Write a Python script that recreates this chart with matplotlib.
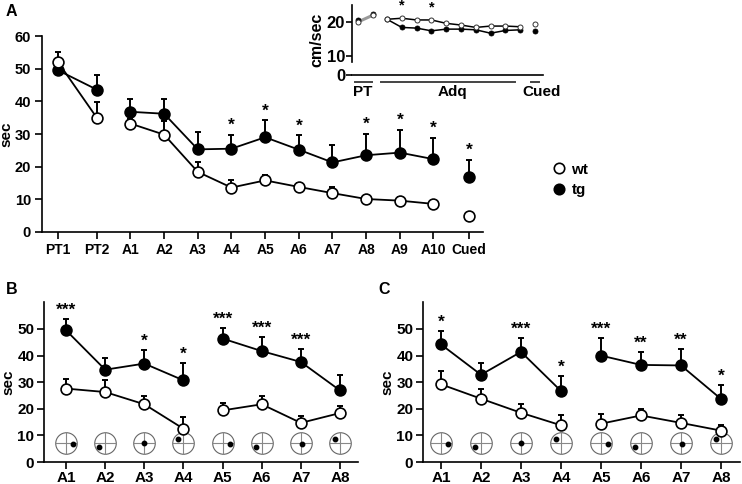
import numpy as np
import matplotlib
matplotlib.use("Agg")
import matplotlib.pyplot as plt
from matplotlib.lines import Line2D
from matplotlib.transforms import ScaledTranslation

plt.rcParams['font.family'] = ['Liberation Sans', 'DejaVu Sans']
plt.rcParams['font.weight'] = 'bold'
plt.rcParams['axes.labelweight'] = 'bold'

# ---------------- data ----------------
# Panel A
a_labels = ['PT1', 'PT2', 'A1', 'A2', 'A3', 'A4', 'A5', 'A6', 'A7', 'A8', 'A9', 'A10', 'Cued']
a_wt = [52.0, 35.0, 33.2, 29.8, 18.4, 13.6, 15.8, 13.8, 11.9, 10.1, 9.6, 8.6, 4.9]
a_wt_err = [3.0, 4.7, 1.5, 4.2, 2.9, 2.2, 1.7, 1.2, 1.9, 1.0, 1.2, 0.8, 0.6]
a_tg = [49.5, 43.6, 36.8, 36.2, 25.3, 25.5, 29.0, 25.2, 21.3, 23.5, 24.3, 22.3, 16.8]
a_tg_err = [1.5, 4.6, 4.0, 4.6, 5.2, 4.3, 5.2, 4.4, 5.4, 6.5, 6.9, 6.5, 5.2]
a_stars = ['', '', '', '', '', '*', '*', '*', '', '*', '*', '*', '*']

# Inset (swim speed)
in_groups = ['PT', 'Adq', 'Cued']
in_wt = [20.0, 22.0, 20.8, 21.1, 20.6, 20.6, 19.6, 19.1, 18.4, 18.8, 18.8, 18.6, 19.4]
in_tg = [20.5, 22.3, 20.8, 18.4, 18.2, 17.4, 17.9, 17.9, 17.7, 16.7, 17.5, 17.7, 17.4]
in_err = [0.6] * 13
in_stars = ['', '', '', '*', '', '*', '', '', '', '', '', '', '']

# Panel B
b_labels = ['A1', 'A2', 'A3', 'A4', 'A5', 'A6', 'A7', 'A8']
b_wt = [27.6, 26.3, 21.7, 12.5, 19.4, 21.7, 14.7, 18.4]
b_wt_err = [3.7, 4.4, 3.3, 4.4, 2.8, 3.0, 2.5, 2.7]
b_tg = [49.5, 34.7, 37.0, 30.7, 46.4, 41.7, 37.6, 26.9]
b_tg_err = [4.1, 4.5, 5.0, 6.5, 4.1, 5.3, 5.0, 5.7]
b_stars = ['***', '', '*', '*', '***', '***', '***', '']

# Panel C
c_labels = ['A1', 'A2', 'A3', 'A4', 'A5', 'A6', 'A7', 'A8']
c_wt = [29.2, 23.8, 18.5, 13.8, 14.4, 17.5, 14.7, 11.8]
c_wt_err = [4.9, 3.5, 3.4, 3.7, 3.5, 2.5, 2.8, 2.2]
c_tg = [44.2, 32.8, 41.4, 26.7, 40.0, 36.5, 36.3, 23.7]
c_tg_err = [4.9, 4.5, 5.3, 5.6, 6.6, 4.8, 6.2, 5.3]
c_stars = ['*', '', '***', '*', '***', '**', '**', '*']

# platform position in each trial (icon dot offset, px)
platform = [(7, -1), (-6, -4), (0, 0), (-5, 4), (7, -1), (-6, -4), (1, -1), (-5, 4)]

# ---------------- figure ----------------
W, H = 742, 484
fig = plt.figure(figsize=(W / 100, H / 100), dpi=100)

MS = 7.8
MEW = 1.2
LW = 1.3


def style_axes(ax):
    for s in ['top', 'right']:
        ax.spines[s].set_visible(False)
    for s in ['left', 'bottom']:
        ax.spines[s].set_linewidth(1.2)
    ax.tick_params(direction='out', length=5, width=1.2)


def bold_ticks(ax):
    for lbl in ax.get_xticklabels() + ax.get_yticklabels():
        lbl.set_fontweight('bold')


def series(ax, x, y, err, filled, segments):
    for seg in segments:
        ax.plot([x[i] for i in seg], [y[i] for i in seg], color='k', lw=LW, zorder=2)
    ax.errorbar(x, y, yerr=[np.zeros(len(y)), err], fmt='none', ecolor='k',
                elinewidth=1.4, capsize=2.5, capthick=1.4, zorder=1)
    ax.plot(x, y, 'o', ms=MS, mew=MEW, mec='k', mfc='k' if filled else 'white',
            zorder=4 if not filled else 3, linestyle='none', clip_on=False)


# ---- Panel A ----
axA = fig.add_axes([42 / W, 1 - 232 / H, (483 - 42) / W, (232 - 36) / H])
style_axes(axA)
xa = [0, 1.15] + [2.15 + i for i in range(10)] + [12.2]
seg_a = [[0, 1], list(range(2, 12)), [12]]
series(axA, xa, a_tg, a_tg_err, True, seg_a)
series(axA, xa, a_wt, a_wt_err, False, seg_a)
for x, y, e, s in zip(xa, a_tg, a_tg_err, a_stars):
    if s:
        axA.text(x, y + e + 0.6, s, ha='center', va='bottom', fontsize=12.5)
axA.set_xlim(-0.476, 12.62)
axA.set_ylim(0, 60)
axA.set_yticks([0, 10, 20, 30, 40, 50, 60])
axA.set_xticks(xa)
axA.set_xticklabels(a_labels)
axA.tick_params(axis='y', labelsize=10.5, pad=3)
axA.tick_params(axis='x', labelsize=10, pad=3)
axA.set_ylabel('sec', fontsize=11, labelpad=1)
bold_ticks(axA)

# ---- Inset ----
axI = fig.add_axes([352 / W, 1 - 75 / H, (543 - 352) / W, 70 / H])
style_axes(axI)
xi = [0, 1.0] + [1.96 + i for i in range(10)] + [11.96]
axI.plot(xi[0:2], in_wt[0:2], color='#999999', lw=2.2, zorder=1)
axI.plot(xi[2:12], in_wt[2:12], color='k', lw=1.1, zorder=2)
axI.plot(xi[2:12], in_tg[2:12], color='k', lw=1.1, zorder=2)
axI.errorbar(xi, in_wt, yerr=[np.zeros(13), in_err], fmt='none', ecolor='#888888',
             elinewidth=0.7, capsize=0, zorder=1)
axI.plot(xi, in_tg, 'o', ms=3.6, mfc='k', mec='k', mew=0.6, zorder=3, linestyle='none')
axI.plot(xi, in_wt, 'o', ms=3.6, mfc='white', mec='#333333', mew=0.7, zorder=4, linestyle='none')
for x, y, s in zip(xi, in_wt, in_stars):
    if s:
        axI.text(x, y + 1.6, s, ha='center', va='bottom', fontsize=10.5)
axI.set_xlim(-0.405, 12.5)
axI.set_ylim(4.4, 25)
axI.spines['left'].set_bounds(8.2, 25)
axI.set_yticks([4.4, 10, 20])
axI.set_yticklabels(['0', '10', '20'])
axI.set_xticks([])
axI.tick_params(axis='y', labelsize=12, pad=1, length=4)
axI.set_ylabel('cm/sec', fontsize=11.5, labelpad=2)
bold_ticks(axI)
# group underlines + labels
ul_y = 2.3
for (x0, x1), lab, xl in zip([(-0.2, 0.95), (1.55, 10.6), (11.7, 12.25)], in_groups,
                              [0.35, 6.4, 12.4]):
    axI.plot([x0, x1], [ul_y, ul_y], color='#444444', lw=1.4, clip_on=False)
    axI.text(xl, ul_y - 0.9, lab, ha='center', va='top', fontsize=11)


# ---- Panels B / C ----
def icons(ax, xs, y):
    for x, (dx, dy) in zip(xs, platform):
        ax.plot(x, y, marker='o', ms=15.5, mfc='none', mec='#666666', mew=0.8, zorder=1)
        ax.plot(x, y, marker='+', ms=15.5, mec='#888888', mew=0.8, zorder=1)
        tr = ax.transData + ScaledTranslation(dx / 100, dy / 100, fig.dpi_scale_trans)
        ax.plot(x, y, marker='o', ms=3.2, color='k', transform=tr, zorder=2)


def panel(rect, labels, wt, wt_err, tg, tg_err, stars, xlim):
    ax = fig.add_axes(rect)
    style_axes(ax)
    x = list(range(len(labels)))
    segs = [[0, 1, 2, 3], [4, 5, 6, 7]]
    series(ax, x, tg, tg_err, True, segs)
    series(ax, x, wt, wt_err, False, segs)
    for xx, y, e, s in zip(x, tg, tg_err, stars):
        if s:
            ax.text(xx, y + e + 0.5, s, ha='center', va='bottom', fontsize=12.5)
    icons(ax, x, 7)
    ax.set_xlim(*xlim)
    ax.set_ylim(0, 60)
    ax.set_yticks([0, 10, 20, 30, 40, 50])
    ax.set_xticks(x)
    ax.set_xticklabels(labels)
    ax.tick_params(axis='y', labelsize=11, pad=2)
    ax.tick_params(axis='x', labelsize=11, pad=1.5)
    ax.set_ylabel('sec', fontsize=11, labelpad=1)
    bold_ticks(ax)
    return ax


axB = panel([44 / W, 1 - 462 / H, (358 - 44) / W, (462 - 302.4) / H],
            b_labels, b_wt, b_wt_err, b_tg, b_tg_err, b_stars, (-0.564, 7.46))
axC = panel([423 / W, 1 - 462 / H, (740 - 423) / W, (462 - 302.4) / H],
            c_labels, c_wt, c_wt_err, c_tg, c_tg_err, c_stars, (-0.45, 7.475))

# panel letters
fig.text(6 / W, 1 - 11 / H, 'A', fontsize=11.5, va='center', ha='left')
fig.text(6 / W, 1 - 290 / H, 'B', fontsize=11.5, va='center', ha='left')
fig.text(378 / W, 1 - 290 / H, 'C', fontsize=11.5, va='center', ha='left')

# legend
handles = [Line2D([], [], marker='o', ls='none', ms=7.5, mfc='white', mec='k', mew=1.2),
           Line2D([], [], marker='o', ls='none', ms=7.5, mfc='k', mec='k', mew=1.2)]
fig.legend(handles, ['wt', 'tg'], loc='center left', bbox_to_anchor=(550 / W, 1 - 180 / H),
           frameon=False, fontsize=11, handletextpad=0.2, labelspacing=0.45,
           handlelength=1.2, borderaxespad=0, borderpad=0)

fig.savefig('out.png', dpi=100)
